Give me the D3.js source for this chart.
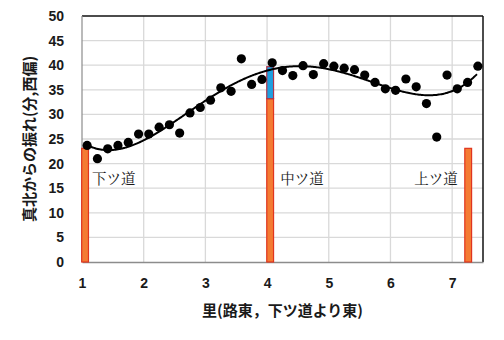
<!DOCTYPE html>
<html>
  <head>
    <meta charset="UTF-8">
    <title>roads</title>
    <style>
      body { margin: 0; background: #fff; }
      svg text { fill: #1a1a1a; }
      .tick text { font: bold 14px "Liberation Sans", Arial, sans-serif; }
      .axlabel { font-family: "Noto Sans CJK JP", sans-serif; font-weight: bold; font-size: 15px; }
      .road { font-family: "Noto Serif CJK JP", "Noto Sans CJK JP", serif; font-size: 14.5px; }
    </style>
    <script src="https://d3js.org/d3.v7.min.js"></script>
  </head>
  <body>
    <div class="graph"></div>
    <script>
      // distance east (ri) and deviation from true north (minutes, west)
      var distX = [1.083, 1.25, 1.417, 1.583, 1.75, 1.917, 2.083, 2.25, 2.417, 2.583,
                   2.75, 2.917, 3.083, 3.25, 3.417, 3.583, 3.75, 3.917, 4.083, 4.25,
                   4.417, 4.583, 4.75, 4.917, 5.083, 5.25, 5.417, 5.583, 5.75, 5.917,
                   6.083, 6.25, 6.417, 6.583, 6.75, 6.917, 7.083, 7.25, 7.417];
      var deviation = [23.7, 21.0, 23.0, 23.7, 24.3, 26.0, 26.0, 27.4, 27.9, 26.2,
                       30.3, 31.4, 32.9, 35.4, 34.7, 41.3, 36.1, 37.1, 40.5, 38.9,
                       37.9, 39.9, 38.1, 40.3, 39.8, 39.4, 39.1, 38.0, 36.5, 35.2,
                       34.9, 37.2, 35.6, 32.2, 25.4, 38.0, 35.2, 36.5, 39.8];

      // the three roads
      var roadNames = ["下ツ道", "中ツ道", "上ツ道"];
      var roadX = [1.05, 4.05, 7.26];
      var roadBase = [23.1, 33.2, 23.1];
      var roadExtra = [0, 6.5, 0];

      var xTicks = [1, 2, 3, 4, 5, 6, 7];
      var yTicks = [0, 5, 10, 15, 20, 25, 30, 35, 40, 45, 50];

      var W = 504, H = 340;
      var margin = {top: 16, right: 21, bottom: 78, left: 82};
      var width = W - margin.left - margin.right,
          height = H - margin.top - margin.bottom;

      var svg = d3.select(".graph").append("svg")
          .attr("width", W)
          .attr("height", H)
        .append("g")
          .attr("transform", "translate(" + margin.left + "," + margin.top + ")");

      var x = d3.scaleLinear().domain([1, 7.5]).range([0, width]);
      var y = d3.scaleLinear().domain([0, 50]).range([height, 0]);

      // grid
      svg.append("g").selectAll("line").data(yTicks.slice(1, -1))
        .enter().append("line")
          .attr("x1", 0).attr("x2", width)
          .attr("y1", y).attr("y2", y)
          .attr("stroke", "#d9d9d9").attr("stroke-width", 1.3);
      svg.append("g").selectAll("line").data(xTicks.slice(1))
        .enter().append("line")
          .attr("x1", x).attr("x2", x)
          .attr("y1", 0).attr("y2", height)
          .attr("stroke", "#d9d9d9").attr("stroke-width", 1.3);

      // frame
      svg.append("line").attr("x1", 0).attr("x2", width).attr("y1", 0).attr("y2", 0)
        .attr("stroke", "#111").attr("stroke-width", 1.5);
      svg.append("line").attr("x1", width).attr("x2", width).attr("y1", 0).attr("y2", height)
        .attr("stroke", "#111").attr("stroke-width", 1.5);
      svg.append("line").attr("x1", 0).attr("x2", 0).attr("y1", 0).attr("y2", height)
        .attr("stroke", "#8c8c8c").attr("stroke-width", 1.2);

      // axes
      var xAxis = svg.append("g")
          .attr("transform", "translate(0," + height + ")")
          .call(d3.axisBottom(x).tickValues(xTicks).tickFormat(d3.format("d")).tickSize(0).tickPadding(16));
      xAxis.select(".domain").attr("stroke", "#8c8c8c").attr("stroke-width", 1.4);

      var yAxis = svg.append("g")
          .call(d3.axisLeft(y).tickValues(yTicks).tickSize(0).tickPadding(18));
      yAxis.select(".domain").remove();

      // road bars
      var bw = x(1.11) - x(1);
      var bars = svg.append("g");
      bars.selectAll(".base").data(roadX)
        .enter().append("rect")
          .attr("x", function(d) { return x(d) - bw / 2; })
          .attr("width", bw)
          .attr("y", function(d, i) { return y(roadBase[i]); })
          .attr("height", function(d, i) { return y(0) - y(roadBase[i]); })
          .attr("fill", "#f47b33")
          .attr("stroke", "#e0351f").attr("stroke-width", 1.2);
      bars.selectAll(".extra").data(roadX.filter(function(d, i) { return roadExtra[i] > 0; }))
        .enter().append("rect")
          .attr("x", function(d) { return x(d) - bw / 2; })
          .attr("width", bw)
          .attr("y", function(d) { var i = roadX.indexOf(d); return y(roadBase[i] + roadExtra[i]); })
          .attr("height", function(d) { var i = roadX.indexOf(d); return y(roadBase[i]) - y(roadBase[i] + roadExtra[i]); })
          .attr("fill", "#1e9fe0")
          .attr("stroke", "#b0344a").attr("stroke-width", 1.2);

      // road names
      var nameDx = [7, 10, -54];
      svg.append("g").selectAll("text").data(roadNames)
        .enter().append("text")
          .attr("class", "road")
          .attr("x", function(d, i) { return x(roadX[i]) + nameDx[i]; })
          .attr("y", y(16.8))
          .attr("dy", "0.35em")
          .text(function(d) { return d; });

      // polynomial trend line (least squares, order 4)
      function polyfit(xs, ys, order) {
        var n = order + 1, A = [], b = [];
        for (var r = 0; r < n; r++) {
          A.push([]);
          for (var c = 0; c < n; c++) A[r].push(d3.sum(xs, function(v) { return Math.pow(v, r + c); }));
          b.push(d3.sum(xs, function(v, k) { return Math.pow(v, r) * ys[k]; }));
        }
        for (var p = 0; p < n; p++) {
          for (var q = p + 1; q < n; q++) {
            var f = A[q][p] / A[p][p];
            for (var c2 = p; c2 < n; c2++) A[q][c2] -= f * A[p][c2];
            b[q] -= f * b[p];
          }
        }
        var coef = new Array(n);
        for (var i = n - 1; i >= 0; i--) {
          var s = b[i];
          for (var j = i + 1; j < n; j++) s -= A[i][j] * coef[j];
          coef[i] = s / A[i][i];
        }
        return coef;
      }
      var mx = d3.mean(distX);
      var coef = polyfit(distX.map(function(v) { return v - mx; }), deviation, 4);
      var fit = function(v) { return d3.sum(coef, function(c, i) { return c * Math.pow(v - mx, i); }); };
      var curveX = d3.range(distX[0], distX[distX.length - 1] + 0.001, 0.02);

      svg.append("path")
          .datum(curveX)
          .attr("fill", "none")
          .attr("stroke", "#000")
          .attr("stroke-width", 2)
          .attr("d", d3.line().x(function(d) { return x(d); }).y(function(d) { return y(fit(d)); }).curve(d3.curveBasis));

      // points
      svg.append("g").selectAll("circle").data(distX)
        .enter().append("circle")
          .attr("cx", function(d) { return x(d); })
          .attr("cy", function(d, i) { return y(deviation[i]); })
          .attr("r", 4.6)
          .attr("fill", "#000");

      // axis titles
      svg.append("text")
          .attr("class", "axlabel")
          .attr("x", width / 2)
          .attr("y", height + 49)
          .attr("dy", "0.35em")
          .style("text-anchor", "middle")
          .text("里(路東，下ツ道より東)");

      svg.append("text")
          .attr("class", "axlabel")
          .attr("transform", "translate(" + (-52) + "," + (height / 2) + ") rotate(-90)")
          .attr("dy", "0.35em")
          .style("text-anchor", "middle")
          .text("真北からの振れ(分,西偏)");
    </script>
  </body>
</html>
